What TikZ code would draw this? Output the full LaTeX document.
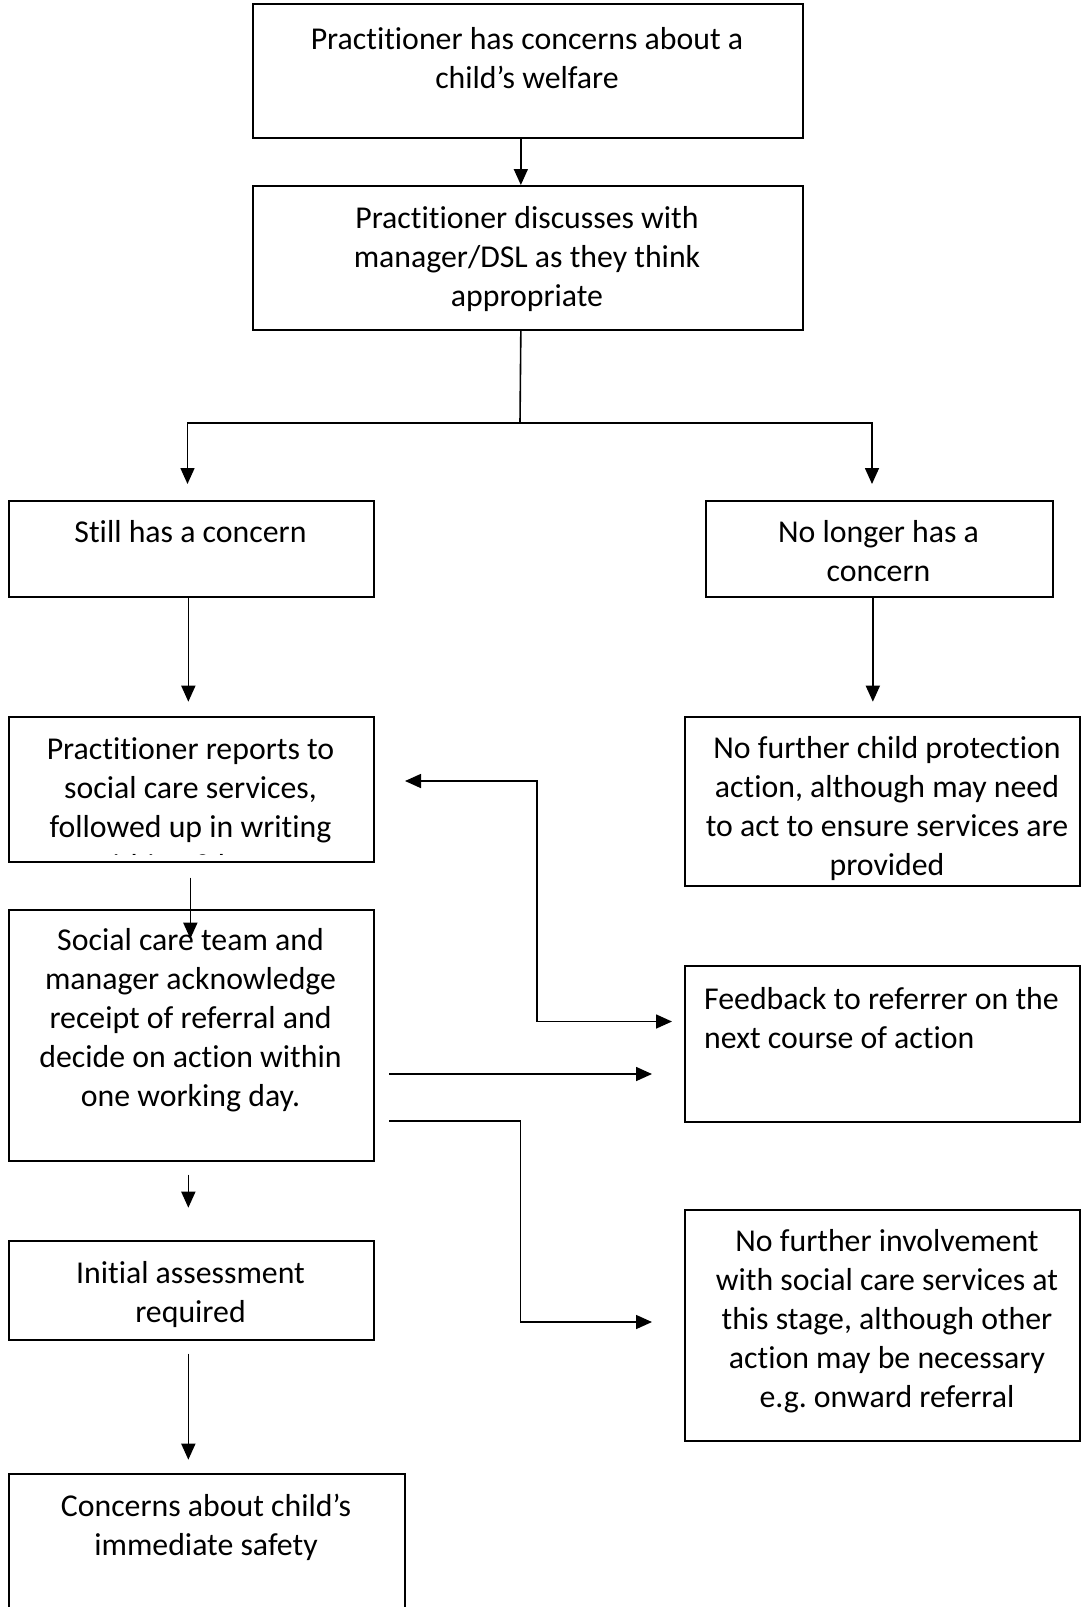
\documentclass[tikz,border=0pt]{standalone}
\usepackage{fontspec}
\setmainfont{Carlito}[RawFeature={-liga;-clig;-calt;-dlig}]
\usetikzlibrary{arrows.meta}
\frenchspacing

\tikzset{
  >={Triangle[length=16pt,width=14pt]},
  box/.style={draw, line width=1.7pt, inner sep=0pt, anchor=north west},
  txt/.style={inner sep=0pt, align=center, anchor=north, font=\fontsize{31.8}{39}\selectfont},
  arr/.style={line width=1.6pt, ->},
  line/.style={line width=1.6pt}
}

\begin{document}
\begin{tikzpicture}[x=1pt,y=-1pt]
   \clip (0,0) rectangle (1081,1607);

   % boxes
   \node[box, minimum width=550pt, minimum height=134pt] (P) at (252,3) {};
   \node[box, minimum width=550pt, minimum height=144pt] (D) at (252,185) {};
   \node[box, minimum width=365pt, minimum height=96pt] (S) at (8,500) {};
   \node[box, minimum width=347pt, minimum height=96pt] (N) at (705,500) {};
   \node[box, minimum width=365pt, minimum height=145pt] (R) at (8,716) {};
   \node[box, minimum width=395pt, minimum height=169pt] (Q) at (684,716) {};
   \node[box, minimum width=365pt, minimum height=251pt] (T) at (8,909) {};
   \node[box, minimum width=395pt, minimum height=156pt] (F) at (684,965) {};
   \node[box, minimum width=365pt, minimum height=99pt] (I) at (8,1240) {};
   \node[box, minimum width=395pt, minimum height=231pt] (O) at (684,1209) {};
   \node[box, minimum width=396pt, minimum height=200pt] (C) at (8,1473) {};

   % texts
   \node[txt] (Pt) at (527,21.5) {\strut Practitioner has concerns about a\\child’s welfare};
   \node[txt] (Dt) at (527,200.5) {\strut Practitioner discusses with\\manager/DSL as they think\\appropriate};
   \node[txt] (St) at (190.5,515) {\strut Still has a concern};
   \node[txt] (Nt) at (878.5,515) {\strut No longer has a\\concern};
   % texts cut off by the box inset
   \begin{scope}
     \clip ([shift={(1,1)}]R.north west) rectangle ([shift={(-1,-8)}]R.south east);
     \node[txt] (Rt) at (190.5,731.5) {\strut Practitioner reports to\\social care services,\\followed up in writing\\within 48 hours};
   \end{scope}
   \begin{scope}
     \clip ([shift={(1,1)}]Q.north west) rectangle ([shift={(-1,-6)}]Q.south east);
     \node[txt] (Qt) at (887,731) {\strut No further child protection\\action, although may need\\to act to ensure services are\\provided};
   \end{scope}
   \node[txt] (Tt) at (190.5,922.5) {\strut Social care team and\\manager acknowledge\\receipt of referral and\\decide on action within\\one working day.};
   \node[txt, align=left, anchor=north west] (Ft) at (704,981.5) {\strut Feedback to referrer on the\\next course of action};
   \node[txt] (It) at (190.5,1255.5) {\strut Initial assessment\\required};
   \node[txt] (Ot) at (887,1223.5) {\strut No further involvement\\with social care services at\\this stage, although other\\action may be necessary\\e.g. onward referral};
   \node[txt] (Ct) at (206,1488.5) {\strut Concerns about child’s\\immediate safety};

   % connectors
   \coordinate (split) at (520,423);
   \coordinate (toS) at (187.5,484);
   \coordinate (toN) at (872,484);
   \coordinate (fbL) at (405,781);
   \coordinate (fbM) at (537,1021.5);
   \coordinate (fbR) at (672,1021.5);
   \coordinate (midL) at (389,1074);
   \coordinate (midR) at (652,1074);
   \coordinate (lowL) at (389,1121);
   \coordinate (lowM) at (520.5,1322);
   \coordinate (lowR) at (652,1322);

   \draw[arr] ([xshift=-7pt]P.south) -- ([xshift=-7pt]D.north);
   \draw[line] ([xshift=-7pt]D.south) -- (split);
   \draw[arr] (split) -| (toS);
   \draw[arr] (split) -| (toN);
   \draw[arr] ([xshift=-3pt]S.south) -- ++(0,104);
   \draw[arr] ([xshift=-6.5pt]N.south) -- ++(0,104);
   \draw[arr] ([xshift=-1pt,yshift=-15pt]R.south) -- ++(0,61);
   \draw[line, <->] (fbL) -| (fbM) -- (fbR);
   \draw[arr] (midL) -- (midR);
   \draw[arr] (lowL) -| (lowM) -- (lowR);
   \draw[arr] ([xshift=-3pt,yshift=-13pt]T.south) -- ++(0,33);
   \draw[arr] ([xshift=-3pt,yshift=-13pt]I.south) -- ++(0,106);

\end{tikzpicture}
\end{document}
